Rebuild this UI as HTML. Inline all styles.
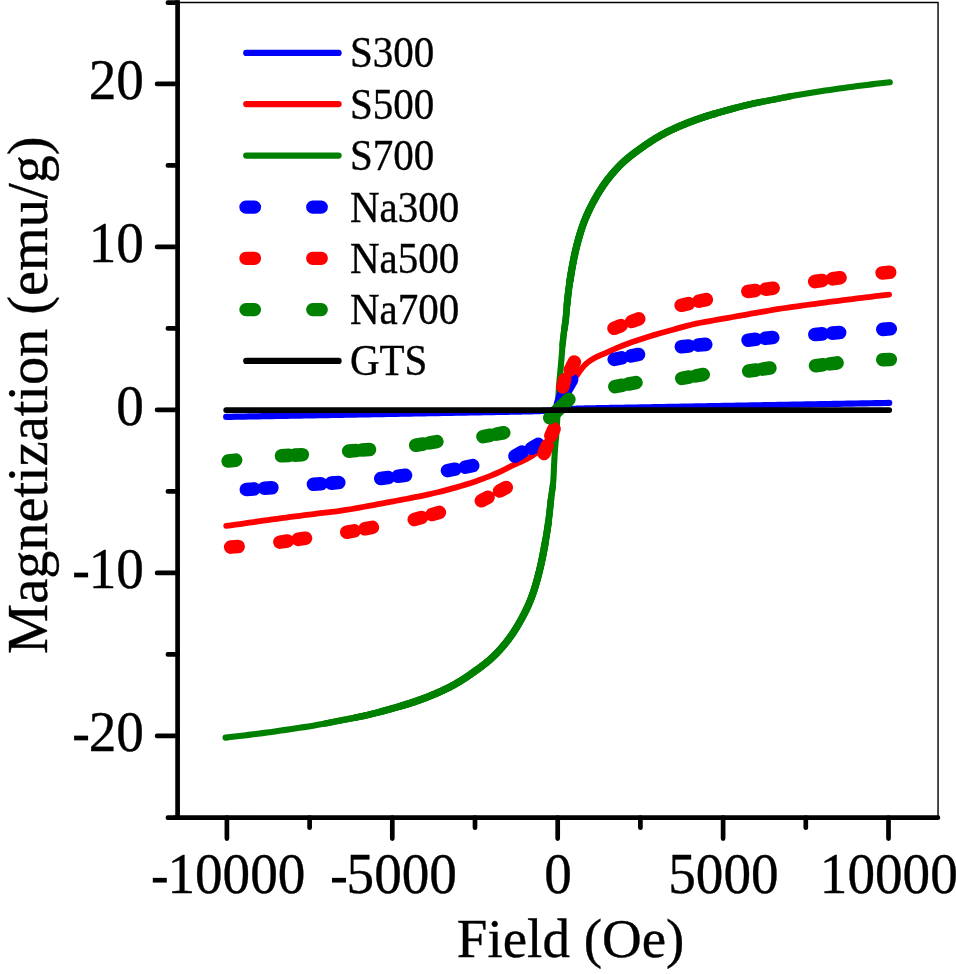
<!DOCTYPE html>
<html><head><meta charset="utf-8"><title>Magnetization vs Field</title>
<style>
html,body{margin:0;padding:0;background:#fff;}
body{width:956px;height:974px;position:relative;overflow:hidden;font-family:"Liberation Serif",serif;}
#wrap{position:absolute;left:0;top:0;width:956px;height:974px;will-change:transform;}
svg{display:block;}
.t{font-family:"Liberation Serif",serif;fill:#000;stroke:#000;stroke-width:0.35;}
</style></head><body>
<div id="wrap">
<svg width="956" height="974" viewBox="0 0 956 974">
<path d="M177.6,2.45 H938.05 V817.7" stroke="#000" stroke-width="1.4" fill="none"/>
<path d="M177.6,0.3 V820.05" stroke="#000" stroke-width="4.7" fill="none"/>
<path d="M175.25,817.7 H937.9" stroke="#000" stroke-width="4.7" stroke-linecap="round" fill="none"/>
<path d="M157.1,83.90 H177.6 M157.1,246.90 H177.6 M157.1,409.90 H177.6 M157.1,572.90 H177.6 M157.1,735.90 H177.6 M167.9,165.40 H177.6 M167.9,328.40 H177.6 M167.9,491.40 H177.6 M167.9,654.40 H177.6 M167.9,2.65 H177.6 M167.9,817.7 H177.6 M226.90,817.7 V838.6 M392.30,817.7 V838.6 M557.70,817.7 V838.6 M723.10,817.7 V838.6 M888.50,817.7 V838.6 M309.60,817.7 V827.7 M475.00,817.7 V827.7 M640.40,817.7 V827.7 M805.80,817.7 V827.7" stroke="#000" stroke-width="4.7" stroke-linecap="round" fill="none"/>
<path d="M226.20,416.87 L230.80,416.78 L235.40,416.70 L240.01,416.62 L244.61,416.54 L249.21,416.45 L253.81,416.37 L258.41,416.29 L263.01,416.20 L267.62,416.12 L272.22,416.04 L276.82,415.96 L281.42,415.87 L286.02,415.79 L290.62,415.71 L295.23,415.62 L299.83,415.54 L304.43,415.46 L309.03,415.38 L313.63,415.29 L318.23,415.21 L322.84,415.13 L327.44,415.04 L332.04,414.96 L336.64,414.88 L341.24,414.80 L345.84,414.71 L350.45,414.63 L355.05,414.55 L359.65,414.46 L364.25,414.38 L368.85,414.30 L373.45,414.22 L378.06,414.13 L382.66,414.05 L387.26,413.97 L391.86,413.89 L396.46,413.80 L401.06,413.72 L405.67,413.64 L410.27,413.55 L414.87,413.47 L419.47,413.39 L424.07,413.31 L428.67,413.22 L433.28,413.14 L437.88,413.06 L442.48,412.97 L447.08,412.89 L451.68,412.81 L456.28,412.73 L460.89,412.64 L465.49,412.56 L470.09,412.48 L474.69,412.39 L479.29,412.31 L483.89,412.23 L488.50,412.15 L493.10,412.06 L497.70,411.98 L498.00,411.97 L498.30,411.97 L498.60,411.96 L498.90,411.96 L499.20,411.95 L499.50,411.95 L499.81,411.94 L500.11,411.94 L500.41,411.93 L500.71,411.92 L501.01,411.92 L501.31,411.91 L501.61,411.91 L501.91,411.90 L502.21,411.90 L502.51,411.89 L502.81,411.89 L503.11,411.88 L503.41,411.88 L503.72,411.87 L504.02,411.86 L504.32,411.86 L504.62,411.85 L504.92,411.85 L505.22,411.84 L505.52,411.84 L505.82,411.83 L506.12,411.83 L506.42,411.82 L506.72,411.82 L507.02,411.81 L507.32,411.80 L507.62,411.80 L507.93,411.79 L508.23,411.79 L508.53,411.78 L508.83,411.78 L509.13,411.77 L509.43,411.77 L509.73,411.76 L510.03,411.75 L510.33,411.75 L510.63,411.74 L510.93,411.74 L511.23,411.73 L511.53,411.73 L511.84,411.72 L512.14,411.72 L512.44,411.71 L512.74,411.70 L513.04,411.70 L513.34,411.69 L513.64,411.69 L513.94,411.68 L514.24,411.68 L514.54,411.67 L514.84,411.66 L515.14,411.66 L515.44,411.65 L515.75,411.65 L516.05,411.64 L516.35,411.64 L516.65,411.63 L516.95,411.62 L517.25,411.62 L517.55,411.61 L517.85,411.61 L518.15,411.60 L518.45,411.60 L518.75,411.59 L519.05,411.58 L519.35,411.58 L519.65,411.57 L519.96,411.57 L520.26,411.56 L520.56,411.55 L520.86,411.55 L521.16,411.54 L521.46,411.54 L521.76,411.53 L522.06,411.52 L522.36,411.52 L522.66,411.51 L522.96,411.51 L523.26,411.50 L523.56,411.49 L523.87,411.49 L524.17,411.48 L524.47,411.47 L524.77,411.47 L525.07,411.46 L525.37,411.46 L525.67,411.45 L525.97,411.44 L526.27,411.44 L526.57,411.43 L526.87,411.42 L527.17,411.42 L527.47,411.41 L527.78,411.40 L528.08,411.40 L528.38,411.39 L528.68,411.38 L528.98,411.37 L529.28,411.37 L529.58,411.36 L529.88,411.35 L530.18,411.35 L530.48,411.34 L530.78,411.33 L531.08,411.32 L531.38,411.32 L531.68,411.31 L531.99,411.30 L532.29,411.29 L532.59,411.28 L532.89,411.28 L533.19,411.27 L533.49,411.26 L533.79,411.25 L534.09,411.24 L534.39,411.23 L534.69,411.23 L534.99,411.22 L535.29,411.21 L535.59,411.20 L535.90,411.19 L536.20,411.18 L536.50,411.17 L536.80,411.16 L537.10,411.15 L537.40,411.14 L537.70,411.13 L538.00,411.12 L538.30,411.11 L538.60,411.10 L538.90,411.09 L539.20,411.08 L539.50,411.07 L539.81,411.05 L540.11,411.04 L540.41,411.03 L540.71,411.02 L541.01,411.01 L541.31,410.99 L541.61,410.98 L541.91,410.97 L542.21,410.95 L542.51,410.94 L542.81,410.93 L543.11,410.91 L543.41,410.90 L543.72,410.88 L544.02,410.87 L544.32,410.85 L544.62,410.84 L544.92,410.82 L545.22,410.81 L545.52,410.79 L545.82,410.77 L546.12,410.76 L546.42,410.74 L546.72,410.72 L547.02,410.70 L547.32,410.69 L547.62,410.67 L547.93,410.65 L548.23,410.63 L548.53,410.61 L548.83,410.59 L549.13,410.57 L549.43,410.55 L549.73,410.53 L550.03,410.51 L550.33,410.49 L550.63,410.47 L550.93,410.44 L551.23,410.42 L551.53,410.40 L551.84,410.38 L552.14,410.35 L552.44,410.33 L552.74,410.31 L553.04,410.29 L553.34,410.26 L553.64,410.24 L553.94,410.21 L554.24,410.19 L554.54,410.16 L554.84,410.14 L555.14,410.11 L555.44,410.09 L555.75,410.06 L556.05,410.04 L556.35,410.01 L556.65,409.99 L556.95,409.96 L557.25,409.94 L557.55,409.91 L557.85,409.89 L558.15,409.86 L558.45,409.84 L558.75,409.81 L559.05,409.79 L559.35,409.76 L559.65,409.74 L559.96,409.71 L560.26,409.69 L560.56,409.66 L560.86,409.64 L561.16,409.61 L561.46,409.59 L561.76,409.56 L562.06,409.54 L562.36,409.51 L562.66,409.49 L562.96,409.47 L563.26,409.45 L563.56,409.42 L563.87,409.40 L564.17,409.38 L564.47,409.36 L564.77,409.33 L565.07,409.31 L565.37,409.29 L565.67,409.27 L565.97,409.25 L566.27,409.23 L566.57,409.21 L566.87,409.19 L567.17,409.17 L567.47,409.15 L567.78,409.13 L568.08,409.11 L568.38,409.10 L568.68,409.08 L568.98,409.06 L569.28,409.04 L569.58,409.03 L569.88,409.01 L570.18,408.99 L570.48,408.98 L570.78,408.96 L571.08,408.95 L571.38,408.93 L571.68,408.92 L571.99,408.90 L572.29,408.89 L572.59,408.87 L572.89,408.86 L573.19,408.85 L573.49,408.83 L573.79,408.82 L574.09,408.81 L574.39,408.79 L574.69,408.78 L574.99,408.77 L575.29,408.76 L575.59,408.75 L575.90,408.73 L576.20,408.72 L576.50,408.71 L576.80,408.70 L577.10,408.69 L577.40,408.68 L577.70,408.67 L578.00,408.66 L578.30,408.65 L578.60,408.64 L578.90,408.63 L579.20,408.62 L579.50,408.61 L579.81,408.60 L580.11,408.59 L580.41,408.58 L580.71,408.57 L581.01,408.57 L581.31,408.56 L581.61,408.55 L581.91,408.54 L582.21,408.53 L582.51,408.52 L582.81,408.52 L583.11,408.51 L583.41,408.50 L583.72,408.49 L584.02,408.48 L584.32,408.48 L584.62,408.47 L584.92,408.46 L585.22,408.45 L585.52,408.45 L585.82,408.44 L586.12,408.43 L586.42,408.43 L586.72,408.42 L587.02,408.41 L587.32,408.40 L587.62,408.40 L587.93,408.39 L588.23,408.38 L588.53,408.38 L588.83,408.37 L589.13,408.36 L589.43,408.36 L589.73,408.35 L590.03,408.34 L590.33,408.34 L590.63,408.33 L590.93,408.33 L591.23,408.32 L591.53,408.31 L591.84,408.31 L592.14,408.30 L592.44,408.29 L592.74,408.29 L593.04,408.28 L593.34,408.28 L593.64,408.27 L593.94,408.26 L594.24,408.26 L594.54,408.25 L594.84,408.25 L595.14,408.24 L595.44,408.23 L595.75,408.23 L596.05,408.22 L596.35,408.22 L596.65,408.21 L596.95,408.20 L597.25,408.20 L597.55,408.19 L597.85,408.19 L598.15,408.18 L598.45,408.18 L598.75,408.17 L599.05,408.16 L599.35,408.16 L599.65,408.15 L599.96,408.15 L600.26,408.14 L600.56,408.14 L600.86,408.13 L601.16,408.12 L601.46,408.12 L601.76,408.11 L602.06,408.11 L602.36,408.10 L602.66,408.10 L602.96,408.09 L603.26,408.08 L603.56,408.08 L603.87,408.07 L604.17,408.07 L604.47,408.06 L604.77,408.06 L605.07,408.05 L605.37,408.05 L605.67,408.04 L605.97,408.03 L606.27,408.03 L606.57,408.02 L606.87,408.02 L607.17,408.01 L607.47,408.01 L607.78,408.00 L608.08,408.00 L608.38,407.99 L608.68,407.98 L608.98,407.98 L609.28,407.97 L609.58,407.97 L609.88,407.96 L610.18,407.96 L610.48,407.95 L610.78,407.95 L611.08,407.94 L611.38,407.94 L611.68,407.93 L611.99,407.92 L612.29,407.92 L612.59,407.91 L612.89,407.91 L613.19,407.90 L613.49,407.90 L613.79,407.89 L614.09,407.89 L614.39,407.88 L614.69,407.88 L614.99,407.87 L615.29,407.86 L615.59,407.86 L615.90,407.85 L616.20,407.85 L616.50,407.84 L616.80,407.84 L617.10,407.83 L617.40,407.83 L617.70,407.82 L622.30,407.74 L626.90,407.65 L631.51,407.57 L636.11,407.49 L640.71,407.41 L645.31,407.32 L649.91,407.24 L654.51,407.16 L659.12,407.07 L663.72,406.99 L668.32,406.91 L672.92,406.83 L677.52,406.74 L682.12,406.66 L686.73,406.58 L691.33,406.49 L695.93,406.41 L700.53,406.33 L705.13,406.25 L709.73,406.16 L714.34,406.08 L718.94,406.00 L723.54,405.91 L728.14,405.83 L732.74,405.75 L737.34,405.67 L741.95,405.58 L746.55,405.50 L751.15,405.42 L755.75,405.34 L760.35,405.25 L764.95,405.17 L769.56,405.09 L774.16,405.00 L778.76,404.92 L783.36,404.84 L787.96,404.76 L792.56,404.67 L797.17,404.59 L801.77,404.51 L806.37,404.42 L810.97,404.34 L815.57,404.26 L820.17,404.18 L824.78,404.09 L829.38,404.01 L833.98,403.93 L838.58,403.84 L843.18,403.76 L847.78,403.68 L852.39,403.60 L856.99,403.51 L861.59,403.43 L866.19,403.35 L870.79,403.26 L875.39,403.18 L880.00,403.10 L884.60,403.02 L889.20,402.93" stroke="#0000ff" stroke-width="6.2" stroke-linecap="round" stroke-linejoin="round" fill="none"/>
<path d="M226.20,525.90 L230.80,525.28 L235.40,524.65 L240.01,524.01 L244.61,523.36 L249.21,522.70 L253.81,522.03 L258.41,521.36 L263.01,520.71 L267.62,520.06 L272.22,519.43 L276.82,518.80 L281.42,518.18 L286.02,517.57 L290.62,516.96 L295.23,516.36 L299.83,515.76 L304.43,515.17 L309.03,514.59 L313.63,514.02 L318.23,513.46 L322.84,512.94 L327.44,512.42 L332.04,511.87 L336.64,511.28 L341.24,510.65 L345.84,509.97 L350.45,509.24 L355.05,508.47 L359.65,507.64 L364.25,506.77 L368.85,505.90 L373.45,505.03 L378.06,504.17 L382.66,503.32 L387.26,502.46 L391.86,501.60 L396.46,500.73 L401.06,499.85 L405.67,498.98 L410.27,498.10 L414.87,497.22 L419.47,496.30 L424.07,495.34 L428.67,494.34 L433.28,493.29 L437.88,492.21 L442.48,491.08 L447.08,489.90 L451.68,488.67 L456.28,487.39 L460.89,486.04 L465.49,484.64 L470.09,483.18 L474.69,481.67 L479.29,480.08 L483.89,478.39 L488.50,476.62 L493.10,474.76 L497.70,472.78 L498.00,472.64 L498.30,472.51 L498.60,472.37 L498.90,472.24 L499.20,472.10 L499.50,471.96 L499.81,471.83 L500.11,471.69 L500.41,471.55 L500.71,471.41 L501.01,471.27 L501.31,471.13 L501.61,470.98 L501.91,470.84 L502.21,470.69 L502.51,470.55 L502.81,470.40 L503.11,470.25 L503.41,470.10 L503.72,469.95 L504.02,469.80 L504.32,469.64 L504.62,469.49 L504.92,469.34 L505.22,469.18 L505.52,469.03 L505.82,468.88 L506.12,468.72 L506.42,468.57 L506.72,468.41 L507.02,468.26 L507.32,468.10 L507.62,467.95 L507.93,467.79 L508.23,467.64 L508.53,467.48 L508.83,467.33 L509.13,467.17 L509.43,467.02 L509.73,466.87 L510.03,466.71 L510.33,466.56 L510.63,466.41 L510.93,466.26 L511.23,466.11 L511.53,465.96 L511.84,465.81 L512.14,465.67 L512.44,465.52 L512.74,465.38 L513.04,465.23 L513.34,465.09 L513.64,464.95 L513.94,464.81 L514.24,464.67 L514.54,464.54 L514.84,464.40 L515.14,464.27 L515.44,464.13 L515.75,464.00 L516.05,463.87 L516.35,463.73 L516.65,463.60 L516.95,463.47 L517.25,463.34 L517.55,463.21 L517.85,463.08 L518.15,462.95 L518.45,462.82 L518.75,462.69 L519.05,462.56 L519.35,462.43 L519.65,462.29 L519.96,462.16 L520.26,462.03 L520.56,461.90 L520.86,461.76 L521.16,461.63 L521.46,461.49 L521.76,461.36 L522.06,461.22 L522.36,461.08 L522.66,460.94 L522.96,460.80 L523.26,460.66 L523.56,460.52 L523.87,460.37 L524.17,460.22 L524.47,460.07 L524.77,459.92 L525.07,459.77 L525.37,459.62 L525.67,459.46 L525.97,459.30 L526.27,459.15 L526.57,458.99 L526.87,458.83 L527.17,458.67 L527.47,458.51 L527.78,458.35 L528.08,458.18 L528.38,458.02 L528.68,457.85 L528.98,457.69 L529.28,457.52 L529.58,457.35 L529.88,457.17 L530.18,457.00 L530.48,456.82 L530.78,456.64 L531.08,456.46 L531.38,456.27 L531.68,456.09 L531.99,455.90 L532.29,455.70 L532.59,455.51 L532.89,455.31 L533.19,455.11 L533.49,454.90 L533.79,454.69 L534.09,454.48 L534.39,454.26 L534.69,454.04 L534.99,453.83 L535.29,453.61 L535.59,453.38 L535.90,453.16 L536.20,452.94 L536.50,452.71 L536.80,452.48 L537.10,452.24 L537.40,452.01 L537.70,451.77 L538.00,451.52 L538.30,451.28 L538.60,451.02 L538.90,450.77 L539.20,450.51 L539.50,450.24 L539.81,449.97 L540.11,449.70 L540.41,449.42 L540.71,449.13 L541.01,448.84 L541.31,448.54 L541.61,448.24 L541.91,447.93 L542.21,447.61 L542.51,447.29 L542.81,446.95 L543.11,446.61 L543.41,446.27 L543.72,445.91 L544.02,445.55 L544.32,445.18 L544.62,444.80 L544.92,444.41 L545.22,444.01 L545.52,443.58 L545.82,443.14 L546.12,442.67 L546.42,442.18 L546.72,441.67 L547.02,441.14 L547.32,440.60 L547.62,440.03 L547.93,439.45 L548.23,438.84 L548.53,438.22 L548.83,437.59 L549.13,436.94 L549.43,436.27 L549.73,435.59 L550.03,434.89 L550.33,434.18 L550.63,433.45 L550.93,432.71 L551.23,431.96 L551.53,431.20 L551.84,430.43 L552.14,429.64 L552.44,428.80 L552.74,427.92 L553.04,426.98 L553.34,426.01 L553.64,425.00 L553.94,423.96 L554.24,422.89 L554.54,421.79 L554.84,420.68 L555.14,419.55 L555.44,418.40 L555.75,417.25 L556.05,416.10 L556.35,414.95 L556.65,413.80 L556.95,412.67 L557.25,411.55 L557.55,410.44 L557.85,409.35 L558.15,408.21 L558.45,407.03 L558.75,405.81 L559.05,404.56 L559.35,403.29 L559.65,402.02 L559.96,400.76 L560.26,399.50 L560.56,398.27 L560.86,397.08 L561.16,395.93 L561.46,394.84 L561.76,393.81 L562.06,392.86 L562.36,392.00 L562.66,391.23 L562.96,390.57 L563.26,389.99 L563.56,389.44 L563.87,388.92 L564.17,388.42 L564.47,387.95 L564.77,387.50 L565.07,387.06 L565.37,386.65 L565.67,386.25 L565.97,385.87 L566.27,385.51 L566.57,385.15 L566.87,384.81 L567.17,384.47 L567.47,384.14 L567.78,383.82 L568.08,383.50 L568.38,383.18 L568.68,382.87 L568.98,382.55 L569.28,382.24 L569.58,381.91 L569.88,381.60 L570.18,381.30 L570.48,381.01 L570.78,380.74 L571.08,380.47 L571.38,380.21 L571.68,379.95 L571.99,379.70 L572.29,379.46 L572.59,379.21 L572.89,378.97 L573.19,378.73 L573.49,378.49 L573.79,378.25 L574.09,378.00 L574.39,377.75 L574.69,377.49 L574.99,377.22 L575.29,376.95 L575.59,376.67 L575.90,376.37 L576.20,376.07 L576.50,375.75 L576.80,375.42 L577.10,375.06 L577.40,374.67 L577.70,374.25 L578.00,373.80 L578.30,373.34 L578.60,372.87 L578.90,372.40 L579.20,371.93 L579.50,371.48 L579.81,371.06 L580.11,370.66 L580.41,370.27 L580.71,369.89 L581.01,369.50 L581.31,369.12 L581.61,368.74 L581.91,368.36 L582.21,367.99 L582.51,367.62 L582.81,367.25 L583.11,366.90 L583.41,366.55 L583.72,366.20 L584.02,365.86 L584.32,365.54 L584.62,365.21 L584.92,364.90 L585.22,364.60 L585.52,364.31 L585.82,364.03 L586.12,363.76 L586.42,363.50 L586.72,363.24 L587.02,362.99 L587.32,362.75 L587.62,362.51 L587.93,362.28 L588.23,362.05 L588.53,361.82 L588.83,361.60 L589.13,361.38 L589.43,361.17 L589.73,360.96 L590.03,360.75 L590.33,360.55 L590.63,360.35 L590.93,360.15 L591.23,359.96 L591.53,359.77 L591.84,359.58 L592.14,359.39 L592.44,359.21 L592.74,359.03 L593.04,358.86 L593.34,358.68 L593.64,358.51 L593.94,358.34 L594.24,358.17 L594.54,358.00 L594.84,357.84 L595.14,357.68 L595.44,357.52 L595.75,357.36 L596.05,357.20 L596.35,357.05 L596.65,356.90 L596.95,356.75 L597.25,356.60 L597.55,356.46 L597.85,356.32 L598.15,356.17 L598.45,356.04 L598.75,355.90 L599.05,355.76 L599.35,355.63 L599.65,355.50 L599.96,355.36 L600.26,355.23 L600.56,355.10 L600.86,354.98 L601.16,354.85 L601.46,354.72 L601.76,354.60 L602.06,354.47 L602.36,354.35 L602.66,354.22 L602.96,354.10 L603.26,353.97 L603.56,353.85 L603.87,353.73 L604.17,353.60 L604.47,353.48 L604.77,353.35 L605.07,353.23 L605.37,353.10 L605.67,352.98 L605.97,352.85 L606.27,352.72 L606.57,352.59 L606.87,352.46 L607.17,352.33 L607.47,352.20 L607.78,352.07 L608.08,351.93 L608.38,351.80 L608.68,351.66 L608.98,351.53 L609.28,351.39 L609.58,351.25 L609.88,351.12 L610.18,350.98 L610.48,350.84 L610.78,350.71 L611.08,350.57 L611.38,350.43 L611.68,350.29 L611.99,350.16 L612.29,350.02 L612.59,349.88 L612.89,349.74 L613.19,349.60 L613.49,349.47 L613.79,349.33 L614.09,349.19 L614.39,349.06 L614.69,348.92 L614.99,348.79 L615.29,348.65 L615.59,348.52 L615.90,348.38 L616.20,348.25 L616.50,348.12 L616.80,347.99 L617.10,347.85 L617.40,347.72 L617.70,347.60 L622.30,345.73 L626.90,343.98 L631.51,342.31 L636.11,340.70 L640.71,339.16 L645.31,337.66 L649.91,336.23 L654.51,334.85 L659.12,333.53 L663.72,332.23 L668.32,330.95 L672.92,329.67 L677.52,328.38 L682.12,327.10 L686.73,325.86 L691.33,324.71 L695.93,323.66 L700.53,322.73 L705.13,321.87 L709.73,321.06 L714.34,320.26 L718.94,319.46 L723.54,318.64 L728.14,317.82 L732.74,317.00 L737.34,316.18 L741.95,315.36 L746.55,314.54 L751.15,313.73 L755.75,312.92 L760.35,312.11 L764.95,311.30 L769.56,310.50 L774.16,309.71 L778.76,308.96 L783.36,308.25 L787.96,307.57 L792.56,306.91 L797.17,306.27 L801.77,305.63 L806.37,305.00 L810.97,304.38 L815.57,303.76 L820.17,303.15 L824.78,302.54 L829.38,301.94 L833.98,301.35 L838.58,300.76 L843.18,300.18 L847.78,299.60 L852.39,299.02 L856.99,298.45 L861.59,297.89 L866.19,297.33 L870.79,296.77 L875.39,296.22 L880.00,295.68 L884.60,295.13 L889.20,294.60" stroke="#ff0000" stroke-width="5.8" stroke-linecap="round" stroke-linejoin="round" fill="none"/>
<path d="M225.60,737.60 L230.21,737.06 L234.82,736.52 L239.44,735.97 L244.05,735.41 L248.66,734.86 L253.27,734.30 L257.88,733.73 L262.49,733.14 L267.11,732.53 L271.72,731.90 L276.33,731.24 L280.94,730.57 L285.55,729.89 L290.17,729.21 L294.78,728.52 L299.39,727.83 L304.00,727.13 L308.61,726.40 L313.23,725.65 L317.84,724.86 L322.45,724.01 L327.06,723.13 L331.67,722.22 L336.28,721.31 L340.90,720.40 L345.51,719.52 L350.12,718.64 L354.73,717.75 L359.34,716.82 L363.96,715.83 L368.57,714.77 L373.18,713.64 L377.79,712.46 L382.40,711.22 L387.02,709.96 L391.63,708.67 L396.24,707.37 L400.85,706.03 L405.46,704.65 L410.07,703.20 L414.69,701.68 L419.30,700.06 L423.91,698.36 L428.52,696.57 L433.13,694.70 L437.75,692.73 L442.36,690.66 L446.97,688.45 L451.58,686.08 L456.19,683.53 L460.81,680.78 L465.42,677.81 L470.03,674.69 L474.64,671.44 L479.25,668.13 L483.86,664.65 L488.48,660.89 L493.09,656.73 L497.70,652.13 L498.00,651.81 L498.30,651.50 L498.60,651.18 L498.90,650.85 L499.20,650.53 L499.50,650.20 L499.81,649.87 L500.11,649.54 L500.41,649.21 L500.71,648.87 L501.01,648.54 L501.31,648.20 L501.61,647.85 L501.91,647.51 L502.21,647.16 L502.51,646.81 L502.81,646.46 L503.11,646.11 L503.41,645.75 L503.72,645.39 L504.02,645.03 L504.32,644.67 L504.62,644.31 L504.92,643.94 L505.22,643.57 L505.52,643.20 L505.82,642.82 L506.12,642.44 L506.42,642.06 L506.72,641.68 L507.02,641.30 L507.32,640.91 L507.62,640.52 L507.93,640.13 L508.23,639.73 L508.53,639.34 L508.83,638.93 L509.13,638.53 L509.43,638.12 L509.73,637.71 L510.03,637.29 L510.33,636.88 L510.63,636.45 L510.93,636.03 L511.23,635.60 L511.53,635.17 L511.84,634.73 L512.14,634.29 L512.44,633.85 L512.74,633.41 L513.04,632.96 L513.34,632.51 L513.64,632.05 L513.94,631.59 L514.24,631.13 L514.54,630.66 L514.84,630.19 L515.14,629.72 L515.44,629.24 L515.75,628.76 L516.05,628.28 L516.35,627.79 L516.65,627.30 L516.95,626.80 L517.25,626.30 L517.55,625.80 L517.85,625.30 L518.15,624.79 L518.45,624.28 L518.75,623.76 L519.05,623.24 L519.35,622.72 L519.65,622.19 L519.96,621.66 L520.26,621.13 L520.56,620.59 L520.86,620.05 L521.16,619.51 L521.46,618.96 L521.76,618.41 L522.06,617.85 L522.36,617.29 L522.66,616.73 L522.96,616.17 L523.26,615.60 L523.56,615.02 L523.87,614.45 L524.17,613.87 L524.47,613.28 L524.77,612.69 L525.07,612.09 L525.37,611.49 L525.67,610.88 L525.97,610.26 L526.27,609.64 L526.57,609.01 L526.87,608.37 L527.17,607.73 L527.47,607.07 L527.78,606.41 L528.08,605.74 L528.38,605.06 L528.68,604.37 L528.98,603.67 L529.28,602.96 L529.58,602.25 L529.88,601.52 L530.18,600.78 L530.48,600.03 L530.78,599.27 L531.08,598.50 L531.38,597.71 L531.68,596.92 L531.99,596.11 L532.29,595.29 L532.59,594.46 L532.89,593.61 L533.19,592.74 L533.49,591.85 L533.79,590.95 L534.09,590.03 L534.39,589.09 L534.69,588.13 L534.99,587.16 L535.29,586.16 L535.59,585.16 L535.90,584.13 L536.20,583.09 L536.50,582.03 L536.80,580.96 L537.10,579.87 L537.40,578.76 L537.70,577.64 L538.00,576.51 L538.30,575.35 L538.60,574.19 L538.90,573.01 L539.20,571.81 L539.50,570.60 L539.81,569.37 L540.11,568.12 L540.41,566.84 L540.71,565.53 L541.01,564.20 L541.31,562.83 L541.61,561.44 L541.91,560.02 L542.21,558.57 L542.51,557.09 L542.81,555.59 L543.11,554.07 L543.41,552.51 L543.72,550.94 L544.02,549.34 L544.32,547.71 L544.62,546.07 L544.92,544.40 L545.22,542.71 L545.52,541.00 L545.82,539.26 L546.12,537.48 L546.42,535.67 L546.72,533.81 L547.02,531.91 L547.32,529.95 L547.62,527.93 L547.93,525.85 L548.23,523.71 L548.53,521.48 L548.83,519.18 L549.13,516.67 L549.43,513.93 L549.73,511.02 L550.03,508.05 L550.33,505.08 L550.63,502.21 L550.93,499.52 L551.23,497.13 L551.53,495.02 L551.84,493.05 L552.14,491.07 L552.44,488.95 L552.74,486.55 L553.04,483.73 L553.34,480.36 L553.64,475.29 L553.94,468.22 L554.24,462.09 L554.54,456.49 L554.84,451.42 L555.14,447.21 L555.44,443.79 L555.75,440.74 L556.05,437.65 L556.35,434.11 L556.65,429.66 L556.95,424.48 L557.25,418.75 L557.55,412.82 L557.85,406.98 L558.15,401.05 L558.45,395.32 L558.75,390.14 L559.05,385.69 L559.35,381.97 L559.65,378.63 L559.96,375.46 L560.26,372.28 L560.56,368.95 L560.86,365.67 L561.16,362.39 L561.46,359.03 L561.76,355.49 L562.06,351.50 L562.36,347.09 L562.66,342.91 L562.96,339.59 L563.26,336.93 L563.56,334.62 L563.87,332.55 L564.17,330.65 L564.47,328.81 L564.77,326.95 L565.07,324.96 L565.37,322.77 L565.67,320.27 L565.97,317.27 L566.27,313.74 L566.57,309.96 L566.87,306.18 L567.17,302.68 L567.47,299.72 L567.78,297.04 L568.08,294.48 L568.38,292.03 L568.68,289.68 L568.98,287.43 L569.28,285.26 L569.58,283.17 L569.88,281.15 L570.18,279.19 L570.48,277.28 L570.78,275.41 L571.08,273.57 L571.38,271.78 L571.68,270.02 L571.99,268.29 L572.29,266.60 L572.59,264.95 L572.89,263.34 L573.19,261.76 L573.49,260.22 L573.79,258.71 L574.09,257.24 L574.39,255.81 L574.69,254.41 L574.99,253.05 L575.29,251.72 L575.59,250.43 L575.90,249.17 L576.20,247.94 L576.50,246.72 L576.80,245.52 L577.10,244.34 L577.40,243.18 L577.70,242.04 L578.00,240.91 L578.30,239.81 L578.60,238.72 L578.90,237.65 L579.20,236.60 L579.50,235.57 L579.81,234.56 L580.11,233.56 L580.41,232.58 L580.71,231.62 L581.01,230.67 L581.31,229.74 L581.61,228.83 L581.91,227.93 L582.21,227.05 L582.51,226.19 L582.81,225.34 L583.11,224.51 L583.41,223.69 L583.72,222.88 L584.02,222.09 L584.32,221.30 L584.62,220.53 L584.92,219.77 L585.22,219.02 L585.52,218.28 L585.82,217.55 L586.12,216.84 L586.42,216.13 L586.72,215.43 L587.02,214.74 L587.32,214.06 L587.62,213.39 L587.93,212.73 L588.23,212.07 L588.53,211.43 L588.83,210.79 L589.13,210.16 L589.43,209.54 L589.73,208.92 L590.03,208.31 L590.33,207.71 L590.63,207.11 L590.93,206.52 L591.23,205.93 L591.53,205.35 L591.84,204.78 L592.14,204.20 L592.44,203.63 L592.74,203.07 L593.04,202.51 L593.34,201.95 L593.64,201.39 L593.94,200.84 L594.24,200.29 L594.54,199.75 L594.84,199.21 L595.14,198.67 L595.44,198.14 L595.75,197.61 L596.05,197.08 L596.35,196.56 L596.65,196.04 L596.95,195.52 L597.25,195.01 L597.55,194.50 L597.85,194.00 L598.15,193.50 L598.45,193.00 L598.75,192.50 L599.05,192.01 L599.35,191.52 L599.65,191.04 L599.96,190.56 L600.26,190.08 L600.56,189.61 L600.86,189.14 L601.16,188.67 L601.46,188.21 L601.76,187.75 L602.06,187.29 L602.36,186.84 L602.66,186.39 L602.96,185.95 L603.26,185.51 L603.56,185.07 L603.87,184.63 L604.17,184.20 L604.47,183.77 L604.77,183.35 L605.07,182.92 L605.37,182.51 L605.67,182.09 L605.97,181.68 L606.27,181.27 L606.57,180.87 L606.87,180.46 L607.17,180.07 L607.47,179.67 L607.78,179.28 L608.08,178.89 L608.38,178.50 L608.68,178.12 L608.98,177.74 L609.28,177.36 L609.58,176.98 L609.88,176.60 L610.18,176.23 L610.48,175.86 L610.78,175.49 L611.08,175.13 L611.38,174.77 L611.68,174.41 L611.99,174.05 L612.29,173.69 L612.59,173.34 L612.89,172.99 L613.19,172.64 L613.49,172.29 L613.79,171.95 L614.09,171.60 L614.39,171.26 L614.69,170.93 L614.99,170.59 L615.29,170.26 L615.59,169.93 L615.90,169.60 L616.20,169.27 L616.50,168.95 L616.80,168.62 L617.10,168.30 L617.40,167.99 L617.70,167.67 L622.31,163.07 L626.92,158.91 L631.54,155.15 L636.15,151.67 L640.76,148.36 L645.37,145.11 L649.98,141.99 L654.59,139.02 L659.21,136.27 L663.82,133.72 L668.43,131.35 L673.04,129.14 L677.65,127.07 L682.27,125.10 L686.88,123.23 L691.49,121.44 L696.10,119.74 L700.71,118.12 L705.33,116.60 L709.94,115.15 L714.55,113.77 L719.16,112.43 L723.77,111.13 L728.38,109.84 L733.00,108.58 L737.61,107.34 L742.22,106.16 L746.83,105.03 L751.44,103.97 L756.06,102.98 L760.67,102.05 L765.28,101.16 L769.89,100.28 L774.50,99.40 L779.12,98.49 L783.73,97.58 L788.34,96.67 L792.95,95.79 L797.56,94.94 L802.17,94.15 L806.79,93.40 L811.40,92.67 L816.01,91.97 L820.62,91.28 L825.23,90.59 L829.85,89.91 L834.46,89.23 L839.07,88.56 L843.68,87.90 L848.29,87.27 L852.91,86.66 L857.52,86.07 L862.13,85.50 L866.74,84.94 L871.35,84.39 L875.96,83.83 L880.58,83.28 L885.19,82.74 L889.80,82.20" stroke="#008000" stroke-width="6.1" stroke-linecap="round" stroke-linejoin="round" fill="none"/>
<path d="M562.50,345.10 L564.14,330.83 L565.77,319.31 L567.41,300.31 L569.05,286.93 L570.68,276.02 L572.32,266.42 L573.96,257.89 L575.59,250.44 L577.23,243.83 L578.87,237.78 L580.50,232.27 L582.14,227.26 L583.78,222.72 L585.41,218.54 L587.05,214.68 L588.69,211.09 L590.32,207.72 L591.96,204.54 L593.60,201.47 L595.23,198.51 L596.87,195.66 L598.51,192.91 L600.14,190.26 L601.78,187.72 L603.42,185.28 L605.05,182.94 L606.69,180.71 L608.33,178.57 L609.96,176.50 L611.60,174.51 L613.24,172.58 L614.87,170.72 L616.51,168.93 L618.15,167.20 L619.78,165.53 L621.42,163.92 L623.06,162.36 L624.69,160.86 L626.33,159.42 L627.97,158.02 L629.60,156.68 L631.24,155.38 L632.88,154.11 L634.51,152.88 L636.15,151.67 L637.79,150.48 L639.42,149.31 L641.06,148.14 L642.70,146.98 L644.33,145.83 L645.97,144.70 L647.61,143.58 L649.24,142.48 L650.88,141.39 L652.52,140.33 L654.15,139.30 L655.79,138.29 L657.43,137.30 L659.06,136.35 L660.70,135.42 L662.34,134.52 L663.97,133.64 L665.61,132.78 L667.25,131.94 L668.88,131.12 L670.52,130.33 L672.16,129.55 L673.79,128.79 L675.43,128.05 L677.07,127.33 L678.71,126.61 L680.34,125.91 L681.98,125.22 L683.62,124.54 L685.25,123.88 L686.89,123.22 L688.53,122.58 L690.16,121.94 L691.80,121.32 L693.44,120.71 L695.07,120.11 L696.71,119.52 L698.35,118.94 L699.98,118.37 L701.62,117.82 L703.26,117.27 L704.89,116.74 L706.53,116.21 L708.17,115.70 L709.80,115.19 L711.44,114.69 L713.08,114.20 L714.71,113.72 L716.35,113.24 L717.99,112.77 L719.62,112.30 L721.26,111.83 L722.90,111.37 L724.53,110.91 L726.17,110.46 L727.81,110.00 L729.44,109.55 L731.08,109.10 L732.72,108.65 L734.35,108.21 L735.99,107.77 L737.63,107.34 L739.26,106.91 L740.90,106.49 L742.54,106.08 L744.17,105.67 L745.81,105.27 L747.45,104.88 L749.08,104.50 L750.72,104.13 L752.36,103.77 L753.99,103.41 L755.63,103.07 L757.27,102.73 L758.90,102.40 L760.54,102.08 L762.18,101.76 L763.81,101.44 L765.45,101.13 L767.09,100.82 L768.72,100.51 L770.36,100.19 L772.00,99.88 L773.63,99.57 L775.27,99.25 L776.91,98.93 L778.54,98.60 L780.18,98.28 L781.82,97.96 L783.45,97.63 L785.09,97.31 L786.73,96.99 L788.36,96.67 L790.00,96.35" stroke="#008000" stroke-width="6.4" stroke-linecap="round" stroke-linejoin="round" fill="none"/>
<path d="M552.90,485.09 L551.26,496.92 L549.63,512.03 L547.99,525.40 L546.35,536.09 L544.72,545.52 L543.08,554.24 L541.44,562.21 L539.81,569.37 L538.17,575.86 L536.53,581.90 L534.90,587.47 L533.26,592.53 L531.62,597.08 L529.99,601.26 L528.35,605.12 L526.71,608.71 L525.08,612.08 L523.44,615.26 L521.80,618.33 L520.17,621.29 L518.53,624.14 L516.89,626.89 L515.26,629.54 L513.62,632.08 L511.98,634.52 L510.35,636.86 L508.71,639.09 L507.07,641.23 L505.44,643.30 L503.80,645.29 L502.16,647.22 L500.53,649.08 L498.89,650.87 L497.25,652.60 L495.62,654.27 L493.98,655.88 L492.34,657.44 L490.71,658.94 L489.07,660.38 L487.43,661.78 L485.80,663.12 L484.16,664.42 L482.52,665.69 L480.89,666.92 L479.25,668.13 L477.61,669.32 L475.98,670.49 L474.34,671.66 L472.70,672.82 L471.07,673.97 L469.43,675.10 L467.79,676.22 L466.16,677.32 L464.52,678.41 L462.88,679.47 L461.25,680.50 L459.61,681.51 L457.97,682.50 L456.34,683.45 L454.70,684.38 L453.06,685.28 L451.43,686.16 L449.79,687.02 L448.15,687.86 L446.52,688.68 L444.88,689.47 L443.24,690.25 L441.61,691.01 L439.97,691.75 L438.33,692.47 L436.69,693.19 L435.06,693.89 L433.42,694.58 L431.78,695.26 L430.15,695.92 L428.51,696.58 L426.87,697.22 L425.24,697.86 L423.60,698.48 L421.96,699.09 L420.33,699.69 L418.69,700.28 L417.05,700.86 L415.42,701.43 L413.78,701.98 L412.14,702.53 L410.51,703.06 L408.87,703.59 L407.23,704.10 L405.60,704.61 L403.96,705.11 L402.32,705.60 L400.69,706.08 L399.05,706.56 L397.41,707.03 L395.78,707.50 L394.14,707.97 L392.50,708.43 L390.87,708.89 L389.23,709.34 L387.59,709.80 L385.96,710.25 L384.32,710.70 L382.68,711.15 L381.05,711.59 L379.41,712.03 L377.77,712.46 L376.14,712.89 L374.50,713.31 L372.86,713.72 L371.23,714.13 L369.59,714.53 L367.95,714.92 L366.32,715.30 L364.68,715.67 L363.04,716.03 L361.41,716.39 L359.77,716.73 L358.13,717.07 L356.50,717.40 L354.86,717.72 L353.22,718.04 L351.59,718.36 L349.95,718.67 L348.31,718.98 L346.68,719.29 L345.04,719.61 L343.40,719.92 L341.77,720.23 L340.13,720.55 L338.49,720.87 L336.86,721.20 L335.22,721.52 L333.58,721.84 L331.95,722.17 L330.31,722.49 L328.67,722.81 L327.04,723.13 L325.40,723.45" stroke="#008000" stroke-width="6.4" stroke-linecap="round" stroke-linejoin="round" fill="none"/>
<path d="M564.50,328.61 L565.91,317.96 L567.31,301.23 L568.72,289.36 L570.13,279.54 L571.53,270.90 L572.94,263.07 L574.35,256.03 L575.75,249.77 L577.16,244.11 L578.56,238.86 L579.97,234.00 L581.38,229.53 L582.78,225.42 L584.19,221.63 L585.60,218.09 L587.00,214.78 L588.41,211.68 L589.82,208.74 L591.22,205.96 L592.63,203.27 L594.04,200.67 L595.44,198.14 L596.85,195.69 L598.26,193.32 L599.66,191.03 L601.07,188.81 L602.47,186.67 L603.88,184.61 L605.29,182.62 L606.69,180.70 L608.10,178.86 L609.51,177.07 L610.91,175.33 L612.32,173.65 L613.73,172.02 L615.13,170.44 L616.54,168.90 L617.95,167.41 L619.35,165.97 L620.76,164.57 L622.17,163.21 L623.57,161.89 L624.98,160.61 L626.38,159.37 L627.79,158.17 L629.20,157.01 L630.60,155.88 L632.01,154.78 L633.42,153.70 L634.82,152.65 L636.23,151.61 L637.64,150.59 L639.04,149.58 L640.45,148.58 L641.86,147.58 L643.26,146.58 L644.67,145.60 L646.08,144.63 L647.48,143.66 L648.89,142.71 L650.29,141.78 L651.70,140.86 L653.11,139.96 L654.51,139.07 L655.92,138.21 L657.33,137.36 L658.73,136.54 L660.14,135.74 L661.55,134.95 L662.95,134.19 L664.36,133.44 L665.77,132.70 L667.17,131.98 L668.58,131.27 L669.99,130.58 L671.39,129.91 L672.80,129.25 L674.21,128.60 L675.61,127.97 L677.02,127.35 L678.42,126.74 L679.83,126.13 L681.24,125.53 L682.64,124.95 L684.05,124.37 L685.46,123.79 L686.86,123.23 L688.27,122.68 L689.68,122.13 L691.08,121.59 L692.49,121.06 L693.90,120.54 L695.30,120.03 L696.71,119.52 L698.12,119.02 L699.52,118.53 L700.93,118.05 L702.33,117.58 L703.74,117.11 L705.15,116.66 L706.55,116.21 L707.96,115.76 L709.37,115.33 L710.77,114.90 L712.18,114.47 L713.59,114.05 L714.99,113.64 L716.40,113.23 L717.81,112.82 L719.21,112.42 L720.62,112.02 L722.03,111.62 L723.43,111.22 L724.84,110.83 L726.24,110.44 L727.65,110.05 L729.06,109.66 L730.46,109.27 L731.87,108.88 L733.28,108.50 L734.68,108.12 L736.09,107.75 L737.50,107.37 L738.90,107.01 L740.31,106.64 L741.72,106.28 L743.12,105.93 L744.53,105.58 L745.94,105.24 L747.34,104.91 L748.75,104.58 L750.15,104.26 L751.56,103.94 L752.97,103.63 L754.37,103.33 L755.78,103.04 L757.19,102.75 L758.59,102.47 L760.00,102.19" stroke="#008000" stroke-width="6.7" stroke-linecap="round" stroke-linejoin="round" fill="none"/>
<path d="M550.90,499.80 L549.49,513.32 L548.09,524.71 L546.68,534.07 L545.27,542.40 L543.87,550.13 L542.46,557.34 L541.05,563.99 L539.65,570.02 L538.24,575.58 L536.84,580.82 L535.43,585.71 L534.02,590.24 L532.62,594.38 L531.21,598.17 L529.80,601.71 L528.40,605.02 L526.99,608.12 L525.58,611.06 L524.18,613.84 L522.77,616.53 L521.36,619.13 L519.96,621.66 L518.55,624.11 L517.14,626.48 L515.74,628.77 L514.33,630.99 L512.93,633.13 L511.52,635.19 L510.11,637.18 L508.71,639.10 L507.30,640.94 L505.89,642.73 L504.49,644.47 L503.08,646.15 L501.67,647.78 L500.27,649.36 L498.86,650.90 L497.45,652.39 L496.05,653.83 L494.64,655.23 L493.23,656.59 L491.83,657.91 L490.42,659.19 L489.02,660.43 L487.61,661.63 L486.20,662.79 L484.80,663.92 L483.39,665.02 L481.98,666.10 L480.58,667.15 L479.17,668.19 L477.76,669.21 L476.36,670.22 L474.95,671.22 L473.54,672.22 L472.14,673.22 L470.73,674.20 L469.32,675.17 L467.92,676.14 L466.51,677.09 L465.11,678.02 L463.70,678.94 L462.29,679.84 L460.89,680.73 L459.48,681.59 L458.07,682.44 L456.67,683.26 L455.26,684.06 L453.85,684.85 L452.45,685.61 L451.04,686.36 L449.63,687.10 L448.23,687.82 L446.82,688.53 L445.41,689.22 L444.01,689.89 L442.60,690.55 L441.19,691.20 L439.79,691.83 L438.38,692.45 L436.98,693.06 L435.57,693.67 L434.16,694.27 L432.76,694.85 L431.35,695.43 L429.94,696.01 L428.54,696.57 L427.13,697.12 L425.72,697.67 L424.32,698.21 L422.91,698.74 L421.50,699.26 L420.10,699.77 L418.69,700.28 L417.28,700.78 L415.88,701.27 L414.47,701.75 L413.07,702.22 L411.66,702.69 L410.25,703.14 L408.85,703.59 L407.44,704.04 L406.03,704.47 L404.63,704.90 L403.22,705.33 L401.81,705.75 L400.41,706.16 L399.00,706.57 L397.59,706.98 L396.19,707.38 L394.78,707.78 L393.37,708.18 L391.97,708.58 L390.56,708.97 L389.16,709.36 L387.75,709.75 L386.34,710.14 L384.94,710.53 L383.53,710.92 L382.12,711.30 L380.72,711.68 L379.31,712.05 L377.90,712.43 L376.50,712.79 L375.09,713.16 L373.68,713.52 L372.28,713.87 L370.87,714.22 L369.46,714.56 L368.06,714.89 L366.65,715.22 L365.25,715.54 L363.84,715.86 L362.43,716.17 L361.03,716.47 L359.62,716.76 L358.21,717.05 L356.81,717.33 L355.40,717.61" stroke="#008000" stroke-width="6.7" stroke-linecap="round" stroke-linejoin="round" fill="none"/>
<path d="M567.00,304.65 L568.21,293.38 L569.42,284.29 L570.63,276.38 L571.83,269.15 L573.04,262.52 L574.25,256.47 L575.46,251.00 L576.67,246.03 L577.88,241.37 L579.09,237.01 L580.29,232.94 L581.50,229.15 L582.71,225.62 L583.92,222.34 L585.13,219.24 L586.34,216.32 L587.55,213.56 L588.76,210.94 L589.96,208.44 L591.17,206.05 L592.38,203.74 L593.59,201.48 L594.80,199.29 L596.01,197.15 L597.22,195.07 L598.42,193.04 L599.63,191.08 L600.84,189.16 L602.05,187.31 L603.26,185.51 L604.47,183.77 L605.68,182.08 L606.88,180.45 L608.09,178.87 L609.30,177.33 L610.51,175.83 L611.72,174.36 L612.93,172.94 L614.14,171.55 L615.35,170.20 L616.55,168.89 L617.76,167.60 L618.97,166.35 L620.18,165.14 L621.39,163.95 L622.60,162.80 L623.81,161.67 L625.01,160.57 L626.22,159.51 L627.43,158.47 L628.64,157.47 L629.85,156.48 L631.06,155.52 L632.27,154.58 L633.47,153.66 L634.68,152.75 L635.89,151.86 L637.10,150.98 L638.31,150.11 L639.52,149.24 L640.73,148.38 L641.94,147.52 L643.14,146.67 L644.35,145.82 L645.56,144.98 L646.77,144.15 L647.98,143.33 L649.19,142.51 L650.40,141.71 L651.60,140.92 L652.81,140.15 L654.02,139.38 L655.23,138.63 L656.44,137.89 L657.65,137.17 L658.86,136.47 L660.06,135.78 L661.27,135.11 L662.48,134.44 L663.69,133.79 L664.90,133.15 L666.11,132.52 L667.32,131.91 L668.53,131.30 L669.73,130.71 L670.94,130.12 L672.15,129.55 L673.36,128.99 L674.57,128.44 L675.78,127.90 L676.99,127.36 L678.19,126.84 L679.40,126.31 L680.61,125.80 L681.82,125.29 L683.03,124.79 L684.24,124.29 L685.45,123.80 L686.65,123.31 L687.86,122.84 L689.07,122.36 L690.28,121.90 L691.49,121.44 L692.70,120.98 L693.91,120.54 L695.12,120.09 L696.32,119.66 L697.53,119.23 L698.74,118.80 L699.95,118.39 L701.16,117.97 L702.37,117.57 L703.58,117.17 L704.78,116.77 L705.99,116.39 L707.20,116.00 L708.41,115.62 L709.62,115.25 L710.83,114.88 L712.04,114.51 L713.24,114.15 L714.45,113.80 L715.66,113.44 L716.87,113.09 L718.08,112.74 L719.29,112.39 L720.50,112.05 L721.71,111.71 L722.91,111.37 L724.12,111.03 L725.33,110.69 L726.54,110.35 L727.75,110.02 L728.96,109.68 L730.17,109.35 L731.37,109.02 L732.58,108.69 L733.79,108.36 L735.00,108.04" stroke="#008000" stroke-width="7.0" stroke-linecap="round" stroke-linejoin="round" fill="none"/>
<path d="M548.40,522.43 L547.19,530.82 L545.98,538.30 L544.77,545.20 L543.57,551.72 L542.36,557.86 L541.15,563.56 L539.94,568.82 L538.73,573.68 L537.52,578.31 L536.31,582.68 L535.11,586.79 L533.90,590.62 L532.69,594.17 L531.48,597.46 L530.27,600.56 L529.06,603.48 L527.85,606.24 L526.64,608.86 L525.44,611.36 L524.23,613.75 L523.02,616.06 L521.81,618.32 L520.60,620.51 L519.39,622.65 L518.18,624.73 L516.98,626.76 L515.77,628.72 L514.56,630.64 L513.35,632.49 L512.14,634.29 L510.93,636.03 L509.72,637.72 L508.52,639.35 L507.31,640.93 L506.10,642.47 L504.89,643.97 L503.68,645.44 L502.47,646.86 L501.26,648.25 L500.05,649.60 L498.85,650.91 L497.64,652.20 L496.43,653.45 L495.22,654.66 L494.01,655.85 L492.80,657.00 L491.59,658.13 L490.39,659.23 L489.18,660.29 L487.97,661.33 L486.76,662.33 L485.55,663.32 L484.34,664.28 L483.13,665.22 L481.93,666.14 L480.72,667.05 L479.51,667.94 L478.30,668.82 L477.09,669.69 L475.88,670.56 L474.67,671.42 L473.46,672.28 L472.26,673.13 L471.05,673.98 L469.84,674.82 L468.63,675.65 L467.42,676.47 L466.21,677.29 L465.00,678.09 L463.80,678.88 L462.59,679.65 L461.38,680.42 L460.17,681.17 L458.96,681.91 L457.75,682.63 L456.54,683.33 L455.34,684.02 L454.13,684.69 L452.92,685.36 L451.71,686.01 L450.50,686.65 L449.29,687.28 L448.08,687.89 L446.87,688.50 L445.67,689.09 L444.46,689.68 L443.25,690.25 L442.04,690.81 L440.83,691.36 L439.62,691.90 L438.41,692.44 L437.21,692.96 L436.00,693.49 L434.79,694.00 L433.58,694.51 L432.37,695.01 L431.16,695.51 L429.95,696.00 L428.75,696.49 L427.54,696.96 L426.33,697.44 L425.12,697.90 L423.91,698.36 L422.70,698.82 L421.49,699.26 L420.28,699.71 L419.08,700.14 L417.87,700.57 L416.66,701.00 L415.45,701.41 L414.24,701.83 L413.03,702.23 L411.82,702.63 L410.62,703.03 L409.41,703.41 L408.20,703.80 L406.99,704.18 L405.78,704.55 L404.57,704.92 L403.36,705.29 L402.16,705.65 L400.95,706.00 L399.74,706.36 L398.53,706.71 L397.32,707.06 L396.11,707.41 L394.90,707.75 L393.69,708.09 L392.49,708.43 L391.28,708.77 L390.07,709.11 L388.86,709.45 L387.65,709.78 L386.44,710.12 L385.23,710.45 L384.03,710.78 L382.82,711.11 L381.61,711.44 L380.40,711.76" stroke="#008000" stroke-width="7.0" stroke-linecap="round" stroke-linejoin="round" fill="none"/>
<path d="M570.00,280.36 L571.04,273.82 L572.09,267.72 L573.13,262.07 L574.17,256.85 L575.22,252.06 L576.26,247.68 L577.30,243.55 L578.35,239.65 L579.39,235.97 L580.43,232.50 L581.47,229.24 L582.52,226.17 L583.56,223.29 L584.60,220.56 L585.65,217.97 L586.69,215.50 L587.73,213.15 L588.78,210.90 L589.82,208.74 L590.86,206.66 L591.91,204.64 L592.95,202.67 L593.99,200.74 L595.04,198.86 L596.08,197.02 L597.12,195.23 L598.17,193.47 L599.21,191.76 L600.25,190.09 L601.29,188.46 L602.34,186.88 L603.38,185.33 L604.42,183.83 L605.47,182.37 L606.51,180.95 L607.55,179.57 L608.60,178.22 L609.64,176.90 L610.68,175.61 L611.73,174.36 L612.77,173.12 L613.81,171.92 L614.86,170.74 L615.90,169.59 L616.94,168.47 L617.99,167.37 L619.03,166.30 L620.07,165.24 L621.12,164.22 L622.16,163.21 L623.20,162.23 L624.24,161.27 L625.29,160.33 L626.33,159.42 L627.37,158.52 L628.42,157.65 L629.46,156.80 L630.50,155.96 L631.55,155.14 L632.59,154.33 L633.63,153.54 L634.68,152.76 L635.72,151.99 L636.76,151.22 L637.81,150.47 L638.85,149.72 L639.89,148.97 L640.94,148.23 L641.98,147.49 L643.02,146.75 L644.06,146.02 L645.11,145.29 L646.15,144.57 L647.19,143.86 L648.24,143.15 L649.28,142.45 L650.32,141.76 L651.37,141.08 L652.41,140.40 L653.45,139.74 L654.50,139.08 L655.54,138.44 L656.58,137.81 L657.63,137.19 L658.67,136.58 L659.71,135.98 L660.76,135.39 L661.80,134.82 L662.84,134.25 L663.88,133.69 L664.93,133.14 L665.97,132.59 L667.01,132.06 L668.06,131.53 L669.10,131.02 L670.14,130.51 L671.19,130.01 L672.23,129.51 L673.27,129.03 L674.32,128.55 L675.36,128.08 L676.40,127.62 L677.45,127.16 L678.49,126.71 L679.53,126.26 L680.58,125.81 L681.62,125.37 L682.66,124.94 L683.71,124.51 L684.75,124.08 L685.79,123.66 L686.83,123.24 L687.88,122.83 L688.92,122.42 L689.96,122.02 L691.01,121.62 L692.05,121.23 L693.09,120.84 L694.14,120.45 L695.18,120.07 L696.22,119.69 L697.27,119.32 L698.31,118.95 L699.35,118.59 L700.40,118.23 L701.44,117.88 L702.48,117.53 L703.53,117.18 L704.57,116.84 L705.61,116.51 L706.65,116.17 L707.70,115.85 L708.74,115.52 L709.78,115.20 L710.83,114.88 L711.87,114.56 L712.91,114.25 L713.96,113.94 L715.00,113.63" stroke="#008000" stroke-width="7.3" stroke-linecap="round" stroke-linejoin="round" fill="none"/>
<path d="M545.40,541.68 L544.36,547.50 L543.31,553.04 L542.27,558.28 L541.23,563.20 L540.18,567.79 L539.14,572.06 L538.10,576.13 L537.05,580.03 L536.01,583.73 L534.97,587.24 L533.93,590.54 L532.88,593.62 L531.84,596.51 L530.80,599.24 L529.75,601.83 L528.71,604.30 L527.67,606.65 L526.62,608.90 L525.58,611.06 L524.54,613.14 L523.49,615.16 L522.45,617.13 L521.41,619.06 L520.36,620.94 L519.32,622.78 L518.28,624.57 L517.23,626.33 L516.19,628.04 L515.15,629.71 L514.11,631.34 L513.06,632.92 L512.02,634.47 L510.98,635.97 L509.93,637.43 L508.89,638.85 L507.85,640.23 L506.80,641.58 L505.76,642.90 L504.72,644.19 L503.67,645.44 L502.63,646.68 L501.59,647.88 L500.54,649.06 L499.50,650.21 L498.46,651.33 L497.41,652.43 L496.37,653.50 L495.33,654.56 L494.28,655.58 L493.24,656.59 L492.20,657.57 L491.16,658.53 L490.11,659.47 L489.07,660.38 L488.03,661.28 L486.98,662.15 L485.94,663.00 L484.90,663.84 L483.85,664.66 L482.81,665.47 L481.77,666.26 L480.72,667.04 L479.68,667.81 L478.64,668.58 L477.59,669.33 L476.55,670.08 L475.51,670.83 L474.46,671.57 L473.42,672.31 L472.38,673.05 L471.34,673.78 L470.29,674.51 L469.25,675.23 L468.21,675.94 L467.16,676.65 L466.12,677.35 L465.08,678.04 L464.03,678.72 L462.99,679.40 L461.95,680.06 L460.90,680.72 L459.86,681.36 L458.82,681.99 L457.77,682.61 L456.73,683.22 L455.69,683.82 L454.64,684.41 L453.60,684.98 L452.56,685.55 L451.52,686.11 L450.47,686.66 L449.43,687.21 L448.39,687.74 L447.34,688.27 L446.30,688.78 L445.26,689.29 L444.21,689.79 L443.17,690.29 L442.13,690.77 L441.08,691.25 L440.04,691.72 L439.00,692.18 L437.95,692.64 L436.91,693.09 L435.87,693.54 L434.82,693.99 L433.78,694.43 L432.74,694.86 L431.69,695.29 L430.65,695.72 L429.61,696.14 L428.57,696.56 L427.52,696.97 L426.48,697.38 L425.44,697.78 L424.39,698.18 L423.35,698.57 L422.31,698.96 L421.26,699.35 L420.22,699.73 L419.18,700.11 L418.13,700.48 L417.09,700.85 L416.05,701.21 L415.00,701.57 L413.96,701.92 L412.92,702.27 L411.87,702.62 L410.83,702.96 L409.79,703.29 L408.75,703.63 L407.70,703.95 L406.66,704.28 L405.62,704.60 L404.57,704.92 L403.53,705.24 L402.49,705.55 L401.44,705.86 L400.40,706.17" stroke="#008000" stroke-width="7.3" stroke-linecap="round" stroke-linejoin="round" fill="none"/>
<path d="M560.3,405 L561.5,401 L564.5,392 L571.7,379.6" stroke="#0000ff" stroke-width="13.6" stroke-linecap="round" stroke-linejoin="round" fill="none"/>
<path d="M246.36,489.42 L253.84,488.91 M264.36,488.19 L271.84,487.68 M313.46,484.32 L320.94,483.81 M331.26,483.10 L338.74,482.58 M380.78,478.53 L388.22,477.55 M398.08,476.25 L405.52,475.28 M447.52,470.65 L454.88,469.20 M465.32,467.13 L472.68,465.68 M614.23,359.43 L621.57,357.91 M631.13,355.96 L638.47,354.44 M681.37,346.70 L688.83,345.99 M698.27,345.10 L705.73,344.39 M748.07,340.14 L755.53,339.36 M765.27,338.33 L772.73,337.56 M814.86,334.45 L822.34,333.88 M832.16,333.12 L839.64,332.55 M882.76,329.37 L890.24,328.83 M515.00,456.20 L522.00,452.00 M531.40,448.30 L538.30,444.40" stroke="#0000ff" stroke-width="13.6" stroke-linecap="round" fill="none"/>
<path d="M230.66,547.08 L238.14,546.52 M279.89,542.10 L287.31,540.98 M298.09,539.34 L305.51,538.22 M346.81,532.21 L354.19,530.82 M365.01,528.79 L372.39,527.40 M414.29,519.50 L421.51,517.46 M432.09,514.46 L439.31,512.43 M481.40,500.77 L488.00,497.23 M499.60,491.00 L506.20,487.46 M614.05,328.30 L621.05,325.60 M631.70,321.53 L638.70,318.83 M681.14,305.31 L688.46,303.63 M698.94,301.24 L706.26,299.57 M747.88,291.40 L755.32,290.45 M765.68,289.14 L773.12,288.19 M814.69,281.59 L822.11,280.45 M832.59,278.84 L840.01,277.70 M882.16,272.92 L889.64,272.28 M544.00,453.40 L547.10,445.80 M550.90,435.80 L554.00,428.90 M562.70,386.90 L564.70,379.60 M570.30,370.10 L574.30,362.00" stroke="#ff0000" stroke-width="13.6" stroke-linecap="round" fill="none"/>
<path d="M228.18,461.06 L235.62,460.14 M281.51,455.82 L288.99,455.41 M294.81,455.09 L302.29,454.68 M348.71,451.11 L356.19,450.53 M362.01,450.07 L369.49,449.49 M415.75,445.27 L423.15,443.99 M429.45,442.91 L436.85,441.63 M482.96,436.61 L490.34,435.25 M496.36,434.14 L503.74,432.77 M614.87,386.66 L622.23,385.22 M628.57,383.99 L635.93,382.55 M681.76,378.40 L689.14,377.05 M695.86,375.85 L703.24,374.50 M748.74,371.05 L756.16,369.99 M762.44,369.11 L769.86,368.05 M815.53,365.71 L822.97,364.73 M829.63,363.87 L837.07,362.89 M882.75,359.69 L890.25,359.51 M549.70,417.80 L568.90,399.40" stroke="#008000" stroke-width="13.6" stroke-linecap="round" fill="none"/>
<path d="M226.20000000000005,410.04999999999995 H889.2" stroke="#000" stroke-width="5.8" stroke-linecap="round" stroke-linejoin="round" fill="none"/>
<path d="M246.2,52.9 H338.6" stroke="#0000ff" stroke-width="6.2" stroke-linecap="round"/>
<text transform="translate(349.90,67.30) scale(1,1.066)" font-size="41" text-anchor="start" class="t">S300</text>
<path d="M246.2,104.1 H338.6" stroke="#ff0000" stroke-width="6.2" stroke-linecap="round"/>
<text transform="translate(349.90,118.50) scale(1,1.066)" font-size="41" text-anchor="start" class="t">S500</text>
<path d="M246.2,155.6 H338.6" stroke="#008000" stroke-width="6.2" stroke-linecap="round"/>
<text transform="translate(349.90,170.00) scale(1,1.066)" font-size="41" text-anchor="start" class="t">S700</text>
<path d="M245.95,207.1 H254.45 M312.75,207.1 H321.25" stroke="#0000ff" stroke-width="13.3" stroke-linecap="round"/>
<text transform="translate(349.90,221.50) scale(1,1.066)" font-size="41" text-anchor="start" class="t">Na300</text>
<path d="M245.95,258.3 H254.45 M312.75,258.3 H321.25" stroke="#ff0000" stroke-width="13.3" stroke-linecap="round"/>
<text transform="translate(349.90,272.70) scale(1,1.066)" font-size="41" text-anchor="start" class="t">Na500</text>
<path d="M245.95,309.6 H254.45 M312.75,309.6 H321.25" stroke="#008000" stroke-width="13.3" stroke-linecap="round"/>
<text transform="translate(349.90,324.00) scale(1,1.066)" font-size="41" text-anchor="start" class="t">Na700</text>
<path d="M246.2,360.9 H338.6" stroke="#000" stroke-width="6.2" stroke-linecap="round"/>
<text transform="translate(349.90,375.30) scale(1,1.066)" font-size="41" text-anchor="start" class="t">GTS</text>
<text transform="translate(88.70,98.50) scale(1,1.022)" font-size="55.2" text-anchor="start" class="t">20</text>
<text transform="translate(88.70,261.50) scale(1,1.022)" font-size="55.2" text-anchor="start" class="t">10</text>
<text transform="translate(116.30,424.50) scale(1,1.022)" font-size="55.2" text-anchor="start" class="t">0</text>
<text transform="translate(88.70,587.50) scale(1,1.022)" font-size="55.2" text-anchor="start" class="t">10</text><rect x="74.10" y="572.65" width="14.0" height="4.7" fill="#000"/>
<text transform="translate(88.70,750.50) scale(1,1.022)" font-size="55.2" text-anchor="start" class="t">20</text><rect x="74.10" y="735.65" width="14.0" height="4.7" fill="#000"/>
<text transform="translate(167.39,892.70) scale(1,1.022)" font-size="55.2" text-anchor="start" class="t">10000</text><rect x="152.79" y="877.85" width="14.0" height="4.7" fill="#000"/>
<text transform="translate(346.59,892.70) scale(1,1.022)" font-size="55.2" text-anchor="start" class="t">5000</text><rect x="331.99" y="877.85" width="14.0" height="4.7" fill="#000"/>
<text transform="translate(544.20,892.70) scale(1,1.022)" font-size="55.2" text-anchor="start" class="t">0</text>
<text transform="translate(668.20,892.70) scale(1,1.022)" font-size="55.2" text-anchor="start" class="t">5000</text>
<text transform="translate(819.80,892.70) scale(1,1.022)" font-size="55.2" text-anchor="start" class="t">10000</text>
<text transform="translate(570.60,956.60) scale(1,1.0)" font-size="55.0" text-anchor="middle" class="t">Field (Oe)</text>
<text transform="translate(46.5,395.2) rotate(-90)" font-size="56.3" text-anchor="middle" class="t">Magnetization (emu/g)</text>
</svg>
</div>
</body></html>
